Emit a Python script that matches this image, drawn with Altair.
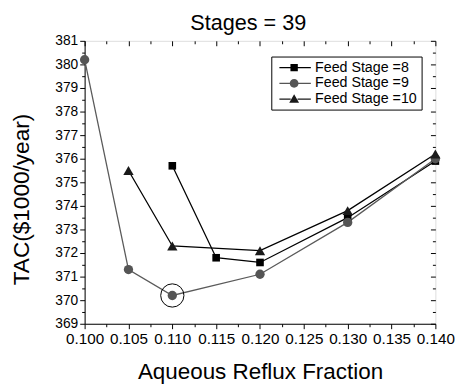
import altair as alt
import pandas as pd

# ---- data ----
series = ["Feed Stage =8", "Feed Stage =9", "Feed Stage =10"]
x8 = [0.110, 0.115, 0.120, 0.130, 0.140]
y8 = [375.7, 371.8, 371.6, 373.5, 375.9]
x9 = [0.100, 0.105, 0.110, 0.120, 0.130, 0.140]
y9 = [380.2, 371.3, 370.2, 371.1, 373.3, 376.0]
x10 = [0.105, 0.110, 0.120, 0.130, 0.140]
y10 = [375.5, 372.3, 372.1, 373.8, 376.2]

x_ticks = [0.100, 0.105, 0.110, 0.115, 0.120, 0.125, 0.130, 0.135, 0.140]
y_ticks = [369, 370, 371, 372, 373, 374, 375, 376, 377, 378, 379, 380, 381]
x_minor = [(a + b) / 2 for a, b in zip(x_ticks[:-1], x_ticks[1:])]
y_minor = [(a + b) / 2 for a, b in zip(y_ticks[:-1], y_ticks[1:])]

marker_colors = ["#000000", "#555555", "#1a1a1a"]
line_colors = ["#000000", "#5a5a5a", "#000000"]
marker_shapes = ["square", "circle", "triangle-up"]
marker_sizes = [60, 90, 110]

rows = []
for name, xs_, ys_ in zip(series, [x8, x9, x10], [y8, y9, y10]):
    for a, b in zip(xs_, ys_):
        rows.append({"series": name, "x": a, "y": b})
df = pd.DataFrame(rows)

imin = y9.index(min(y9))
df_min = pd.DataFrame({"x": [x9[imin]], "y": [y9[imin]]})

FONT = "Liberation Sans"
W, H = 357, 288

xs = alt.Scale(domain=[0.100, 0.140], nice=False, zero=False)
ys = alt.Scale(domain=[369, 381], nice=False, zero=False)

# legend symbols: line + marker as custom paths
seg = ("M-3.0,-0.13L-0.7,-0.13L-0.7,0.13L-3.0,0.13Z "
       "M0.7,-0.13L3.4,-0.13L3.4,0.13L0.7,0.13Z ")
legend_paths = [
    seg + "M-0.75,-0.75L0.75,-0.75L0.75,0.75L-0.75,0.75Z",
    seg + "M-0.9,0A0.9,0.9,0,1,1,0.9,0A0.9,0.9,0,1,1,-0.9,0Z",
    seg + "M0,-0.95L1,0.75L-1,0.75Z",
]

base = alt.Chart(df)
X = alt.X("x:Q", scale=xs, axis=None)
Y = alt.Y("y:Q", scale=ys, axis=None)

data_layers = []
for name, lc in zip(series, line_colors):
    data_layers.append(
        base.transform_filter(alt.datum.series == name)
        .mark_line(strokeWidth=1.3, color=lc)
        .encode(x=X, y=Y)
    )
for name, mc, shp, sz in zip(series, marker_colors, marker_shapes, marker_sizes):
    data_layers.append(
        base.transform_filter(alt.datum.series == name)
        .mark_point(shape=shp, size=sz, filled=True, opacity=1, color=mc)
        .encode(x=X, y=Y)
    )

leg = dict(
    title=None,
    orient="none",
    legendX=190,
    legendY=16,
    padding=4,
    strokeColor="#000000",
    fillColor="#ffffff",
    symbolSize=100,
    symbolOpacity=1,
    symbolStrokeWidth=0,
    symbolOffset=12,
    labelOffset=14,
    labelFont=FONT,
    labelFontSize=14.5,
    labelColor="#000000",
    rowPadding=1,
)

legend_layer = base.mark_point(filled=True, opacity=0).encode(
    x=X,
    y=Y,
    color=alt.Color("series:N", scale=alt.Scale(domain=series, range=marker_colors),
                    legend=alt.Legend(**leg)),
    shape=alt.Shape("series:N", scale=alt.Scale(domain=series, range=legend_paths),
                    legend=alt.Legend(**leg)),
)

ring = alt.Chart(df_min).mark_point(
    shape="circle", size=560, filled=False, stroke="#000000", strokeWidth=1, opacity=1
).encode(x=X, y=Y)

common = dict(labelFont=FONT, titleFont=FONT, tickColor="#000000", domainColor="#000000",
              tickWidth=1, domainWidth=1, grid=False)


def axis_layer(xaxis, yaxis):
    return base.mark_point(opacity=0).encode(
        x=alt.X("x:Q", scale=xs, axis=xaxis),
        y=alt.Y("y:Q", scale=ys, axis=yaxis),
    )


ax_main = axis_layer(
    alt.Axis(orient="bottom", values=x_ticks, format=".3f", tickSize=5, labelFontSize=15.5,
             labelColor="#000000", labelPadding=3, labelFlush=False, labelOverlap=False,
             title="Aqueous Reflux Fraction", titleFontSize=22.8, titleFontWeight="normal",
             titleColor="#000000", titleBaseline="alphabetic", titleY=56, domain=True, **common),
    alt.Axis(orient="left", values=y_ticks, format="d", tickSize=5, labelFontSize=14,
             labelColor="#000000", labelPadding=2, labelFlush=False, labelOverlap=False,
             title="TAC($1000/year)", titleFontSize=23, titleFontWeight="normal",
             titleColor="#000000", titleBaseline="alphabetic", titleX=-57, titleY=161,
             domain=True, **common),
)
ax_minor = axis_layer(
    alt.Axis(orient="bottom", values=x_minor, tickSize=3, labels=False, domain=False, title=None, **common),
    alt.Axis(orient="left", values=y_minor, tickSize=3, labels=False, domain=False, title=None, **common),
)
ax_mirror = axis_layer(
    alt.Axis(orient="top", values=x_ticks, tickSize=5, offset=-5, labels=False, domain=False,
             title="Stages = 39", titleFontSize=22, titleFontWeight="normal", titleColor="#000000",
             titleBaseline="alphabetic", titleX=166, titleY=-17, **common),
    alt.Axis(orient="right", values=y_ticks, tickSize=5, offset=-5, labels=False, domain=False, title=None, **common),
)
ax_mirror_minor = axis_layer(
    alt.Axis(orient="top", values=x_minor, tickSize=3, offset=-3, labels=False, domain=False, title=None, **common),
    alt.Axis(orient="right", values=y_minor, tickSize=3, offset=-3, labels=False, domain=False, title=None, **common),
)

chart = (
    alt.layer(ax_main, ax_minor, ax_mirror, ax_mirror_minor, *data_layers, ring, legend_layer)
    .resolve_axis(x="independent", y="independent")
    .properties(
        width=W,
        height=H,
        padding={"left": 78, "top": 30, "right": 21, "bottom": 64},
        autosize=alt.AutoSizeParams(type="none"),
    )
    .configure_view(stroke="#000000", strokeWidth=1)
    .configure(background="#ffffff")
)

chart.save("out.html", embed_options={"renderer": "svg", "actions": False})
